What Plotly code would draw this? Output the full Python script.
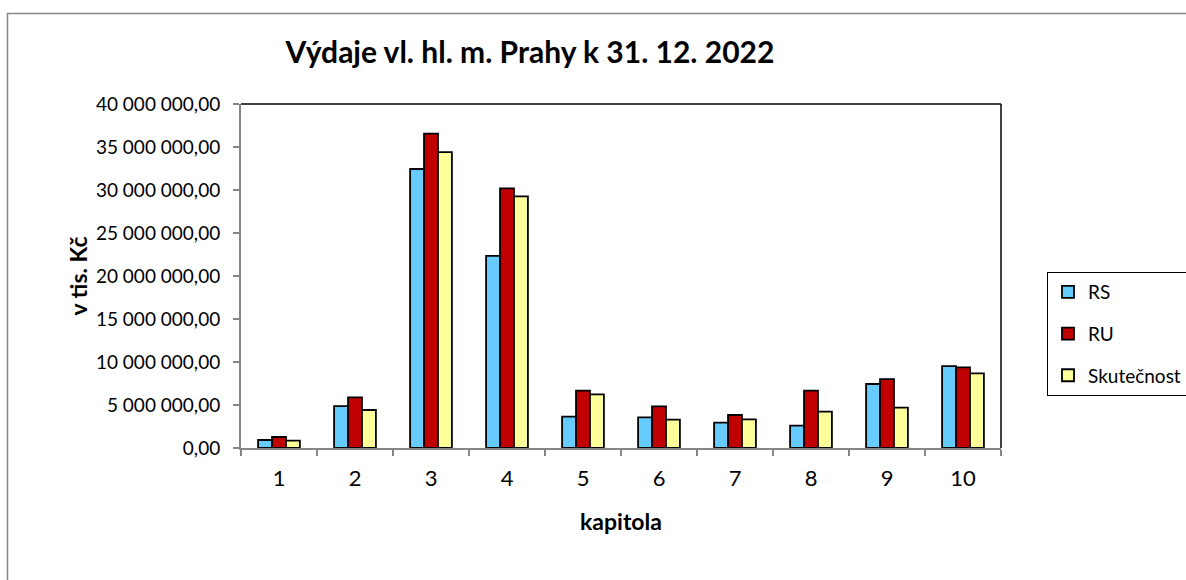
import plotly.graph_objects as go

categories = ["1", "2", "3", "4", "5", "6", "7", "8", "9", "10"]
rs = [930000, 4880000, 32440000, 22330000, 3640000, 3560000, 2940000, 2600000, 7440000, 9530000]
ru = [1280000, 5890000, 36550000, 30200000, 6660000, 4840000, 3840000, 6660000, 8020000, 9380000]
skut = [850000, 4420000, 34400000, 29270000, 6240000, 3290000, 3330000, 4220000, 4690000, 8680000]
series_names = ["RS", "RU", "Skutečnost"]
colors = ["#66CCFF", "#C00000", "#FFFF99"]
y_tickvals = [0, 5000000, 10000000, 15000000, 20000000, 25000000, 30000000, 35000000, 40000000]
y_ticktext = ["0,00", "5 000 000,00", "10 000 000,00", "15 000 000,00", "20 000 000,00",
              "25 000 000,00", "30 000 000,00", "35 000 000,00", "40 000 000,00"]

FONT = "Lato"
fig = go.Figure()
for i, (name, vals) in enumerate(zip(series_names, [rs, ru, skut])):
    fig.add_trace(go.Bar(
        x=categories, y=vals, name=name, legendgroup=name,
        marker=dict(color=colors[i], line=dict(color="black", width=1.8)),
    ))

fig.update_layout(
    width=1186, height=580,
    margin=dict(l=241, r=185, t=104, b=132, autoexpand=False),
    paper_bgcolor="white", plot_bgcolor="white",
    barmode="group", bargap=0.45, bargroupgap=0,
    font=dict(family=FONT, color="black"),
    title=dict(text="<b>Výdaje vl. hl. m. Prahy k 31. 12. 2022</b>",
               x=530 / 1186, xanchor="center", y=1 - 52 / 580, yanchor="middle",
               font=dict(size=30, family=FONT, color="black")),
    showlegend=True,
    legend=dict(xref="container", yref="container",
                x=1047 / 1186, xanchor="left", y=1 - 334 / 580, yanchor="middle",
                bordercolor="black", borderwidth=1, bgcolor="white",
                font=dict(size=19, family=FONT), tracegroupgap=14,
                itemwidth=30),
    xaxis=dict(type="category", showline=True, linecolor="#868686", linewidth=2,
               ticks="outside", tickson="boundaries", ticklen=6, tickcolor="#868686",
               tickwidth=2, tickfont=dict(size=22, family=FONT), showgrid=False,
               ticklabelstandoff=10,
               title=dict(text="<b>kapitola</b>", font=dict(size=23, family=FONT), standoff=23)),
    yaxis=dict(range=[0, 40000000], tickvals=y_tickvals, ticktext=y_ticktext,
               showline=True, linecolor="#868686", linewidth=2, ticks="outside",
               ticklen=6, tickcolor="#868686", tickwidth=2, showgrid=False, zeroline=False,
               tickfont=dict(size=19, family=FONT), ticklabelstandoff=9,
               title=dict(text="<b>v tis. Kč</b>", font=dict(size=23, family=FONT), standoff=2)),
)

# plot area top/right border
fig.add_shape(type="line", xref="paper", yref="paper", x0=0, x1=1, y0=1, y1=1,
              line=dict(color="black", width=1.5))
fig.add_shape(type="line", xref="paper", yref="paper", x0=1, x1=1, y0=0, y1=1,
              line=dict(color="black", width=1.5))
# outer chart border (cut at right/bottom edges)
fig.add_shape(type="rect", xref="paper", yref="paper",
              x0=(7.5 - 241) / 760, x1=(1195 - 241) / 760,
              y0=(448 - 600) / 344, y1=(448 - 13.5) / 344,
              line=dict(color="#868686", width=1.5), layer="below")

fig.write_html("out.html", config={"displayModeBar": False},
               post_script="document.body.style.margin='0px';document.body.style.overflow='hidden';")
